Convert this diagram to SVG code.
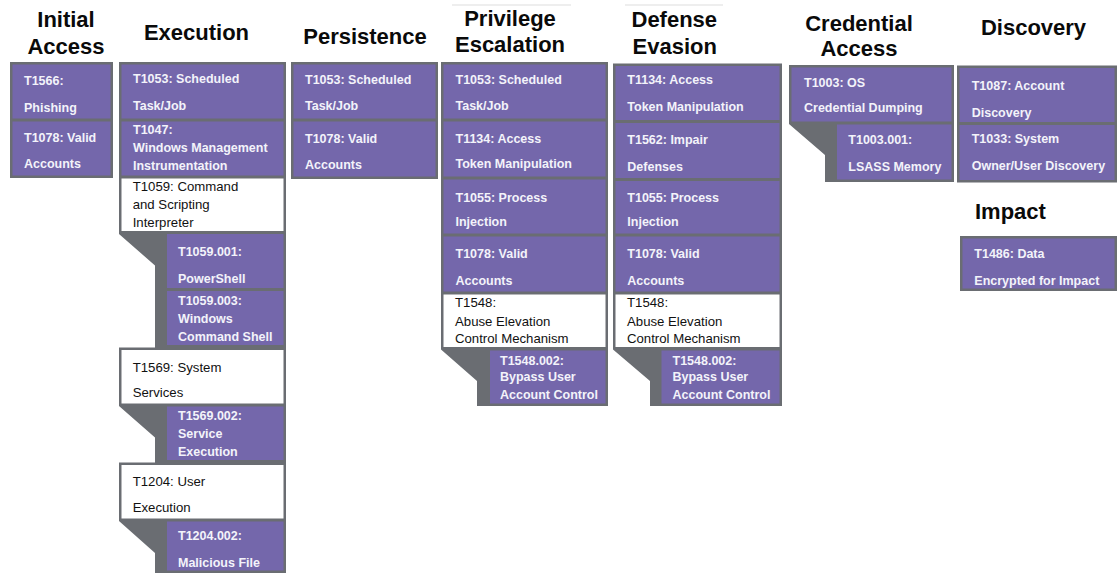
<svg xmlns="http://www.w3.org/2000/svg" width="1117" height="573" viewBox="0 0 1117 573">
  <style>
    .frame { fill: #6a6d72; }
    .tech { fill: #7467ab; }
    .open { fill: #ffffff; }
    .head { font-family: "Liberation Sans", Arial, sans-serif; font-weight: bold; font-size: 22px; fill: #0a0a0a; }
    .t { font-family: "Liberation Sans", Arial, sans-serif; font-weight: bold; font-size: 12.5px; fill: #f3f3fa; }
    .w { font-family: "Liberation Sans", Arial, sans-serif; font-size: 13.2px; fill: #111111; }
    .c { text-anchor: middle; }
    .rule { fill: #eeeeee; }
  </style>
  <rect width="1117" height="573" fill="#ffffff"/>

  <!-- faint rules above two headers -->
  <rect class="rule" x="452" y="4" width="119" height="2"/>
  <rect class="rule" x="625" y="4" width="98" height="2"/>

  <!-- Initial Access -->
  <g id="initial-access">
    <text class="head c" x="66" y="27">Initial</text>
    <text class="head c" x="66" y="53.5">Access</text>
    <rect class="frame" x="10" y="62" width="103" height="116"/>
    <g id="ia-t1566">
      <rect class="tech" x="12.5" y="64.5" width="98" height="54"/>
      <text class="t" x="24" y="85">T1566:</text>
      <text class="t" x="24" y="111.5">Phishing</text>
    </g>
    <g id="ia-t1078">
      <rect class="tech" x="12.5" y="121.5" width="98" height="54"/>
      <text class="t" x="24" y="141.5">T1078: Valid</text>
      <text class="t" x="24" y="168">Accounts</text>
    </g>
  </g>

  <!-- Execution -->
  <g id="execution">
    <text class="head c" x="196.5" y="40">Execution</text>
    <path class="frame" d="M119,62 H286 V573 H155 V553 L119,521 V462.5 H155 V437.5 L119,406 V347.5 H155 V265.5 L119,234 Z"/>
    <g id="ex-t1053">
      <rect class="tech" x="121.5" y="64.5" width="162" height="54"/>
      <text class="t" x="133" y="83">T1053: Scheduled</text>
      <text class="t" x="133" y="109.5">Task/Job</text>
    </g>
    <g id="ex-t1047">
      <rect class="tech" x="121.5" y="121.5" width="162" height="54"/>
      <text class="t" x="133" y="133.5">T1047:</text>
      <text class="t" x="133" y="152">Windows Management</text>
      <text class="t" x="133" y="170">Instrumentation</text>
    </g>
    <g id="ex-t1059">
      <rect class="open" x="121.5" y="178.5" width="162" height="52.5"/>
      <text class="w" x="132.7" y="190.5">T1059: Command</text>
      <text class="w" x="132.7" y="208.5">and Scripting</text>
      <text class="w" x="132.7" y="226.5">Interpreter</text>
    </g>
    <g id="ex-t1059-001">
      <rect class="tech" x="167" y="234" width="116.5" height="54"/>
      <text class="t" x="178" y="256">T1059.001:</text>
      <text class="t" x="178" y="283">PowerShell</text>
    </g>
    <g id="ex-t1059-003">
      <rect class="tech" x="167" y="291" width="116.5" height="54"/>
      <text class="t" x="178" y="305">T1059.003:</text>
      <text class="t" x="178" y="323">Windows</text>
      <text class="t" x="178" y="340.5">Command Shell</text>
    </g>
    <g id="ex-t1569">
      <rect class="open" x="121.5" y="350" width="162" height="53.5"/>
      <text class="w" x="132.7" y="371.7">T1569: System</text>
      <text class="w" x="132.7" y="396.7">Services</text>
    </g>
    <g id="ex-t1569-002">
      <rect class="tech" x="167" y="406.5" width="116.5" height="53.5"/>
      <text class="t" x="178" y="420">T1569.002:</text>
      <text class="t" x="178" y="438.3">Service</text>
      <text class="t" x="178" y="456">Execution</text>
    </g>
    <g id="ex-t1204">
      <rect class="open" x="121.5" y="465" width="162" height="53.5"/>
      <text class="w" x="132.7" y="486">T1204: User</text>
      <text class="w" x="132.7" y="511.7">Execution</text>
    </g>
    <g id="ex-t1204-002">
      <rect class="tech" x="167" y="521.5" width="116.5" height="49"/>
      <text class="t" x="178" y="540">T1204.002:</text>
      <text class="t" x="178" y="566.7">Malicious File</text>
    </g>
  </g>

  <!-- Persistence -->
  <g id="persistence">
    <text class="head c" x="365" y="43.5">Persistence</text>
    <rect class="frame" x="291" y="62" width="147" height="117"/>
    <g id="pe-t1053">
      <rect class="tech" x="293.5" y="64.5" width="142" height="54"/>
      <text class="t" x="305" y="84">T1053: Scheduled</text>
      <text class="t" x="305" y="110">Task/Job</text>
    </g>
    <g id="pe-t1078">
      <rect class="tech" x="293.5" y="121.5" width="142" height="55"/>
      <text class="t" x="305" y="142.7">T1078: Valid</text>
      <text class="t" x="305" y="169">Accounts</text>
    </g>
  </g>

  <!-- Privilege Escalation -->
  <g id="privilege-escalation">
    <text class="head c" x="510" y="26">Privilege</text>
    <text class="head c" x="510" y="52">Escalation</text>
    <path class="frame" d="M441,62 H608 V406 H477 V381 L441,349.5 Z"/>
    <g id="pr-t1053">
      <rect class="tech" x="443.5" y="64.5" width="162" height="54"/>
      <text class="t" x="455.5" y="84">T1053: Scheduled</text>
      <text class="t" x="455.5" y="110">Task/Job</text>
    </g>
    <g id="pr-t1134">
      <rect class="tech" x="443.5" y="121.5" width="162" height="55"/>
      <text class="t" x="455.5" y="142.7">T1134: Access</text>
      <text class="t" x="455.5" y="168">Token Manipulation</text>
    </g>
    <g id="pr-t1055">
      <rect class="tech" x="443.5" y="179.5" width="162" height="54"/>
      <text class="t" x="455.5" y="201.7">T1055: Process</text>
      <text class="t" x="455.5" y="226">Injection</text>
    </g>
    <g id="pr-t1078">
      <rect class="tech" x="443.5" y="236.5" width="162" height="55"/>
      <text class="t" x="455.5" y="258">T1078: Valid</text>
      <text class="t" x="455.5" y="285">Accounts</text>
    </g>
    <g id="pr-t1548">
      <rect class="open" x="443.5" y="294.5" width="162" height="52.5"/>
      <text class="w" x="455" y="307.3">T1548:</text>
      <text class="w" x="455" y="325.7">Abuse Elevation</text>
      <text class="w" x="455" y="343.3">Control Mechanism</text>
    </g>
    <g id="pr-t1548-002">
      <rect class="tech" x="490" y="350.5" width="115.5" height="53"/>
      <text class="t" x="500" y="365">T1548.002:</text>
      <text class="t" x="500" y="381">Bypass User</text>
      <text class="t" x="500" y="399">Account Control</text>
    </g>
  </g>

  <!-- Defense Evasion -->
  <g id="defense-evasion">
    <text class="head" x="631.5" y="27">Defense</text>
    <text class="head" x="632.5" y="53.5">Evasion</text>
    <path class="frame" d="M613,63.5 H782 V406 H650 V381 L613,349.5 Z"/>
    <g id="de-t1134">
      <rect class="tech" x="615.5" y="66" width="164" height="54"/>
      <text class="t" x="627.3" y="84.3">T1134: Access</text>
      <text class="t" x="627.3" y="110.5">Token Manipulation</text>
    </g>
    <g id="de-t1562">
      <rect class="tech" x="615.5" y="123" width="164" height="55"/>
      <text class="t" x="627.3" y="144.3">T1562: Impair</text>
      <text class="t" x="627.3" y="171">Defenses</text>
    </g>
    <g id="de-t1055">
      <rect class="tech" x="615.5" y="181" width="164" height="52.5"/>
      <text class="t" x="627.3" y="201.7">T1055: Process</text>
      <text class="t" x="627.3" y="226">Injection</text>
    </g>
    <g id="de-t1078">
      <rect class="tech" x="615.5" y="236.5" width="164" height="55"/>
      <text class="t" x="627.3" y="258">T1078: Valid</text>
      <text class="t" x="627.3" y="285">Accounts</text>
    </g>
    <g id="de-t1548">
      <rect class="open" x="615.5" y="294.5" width="164" height="52.5"/>
      <text class="w" x="627" y="307.3">T1548:</text>
      <text class="w" x="627" y="325.7">Abuse Elevation</text>
      <text class="w" x="627" y="343.3">Control Mechanism</text>
    </g>
    <g id="de-t1548-002">
      <rect class="tech" x="661.5" y="350.5" width="118" height="53"/>
      <text class="t" x="672.5" y="365">T1548.002:</text>
      <text class="t" x="672.5" y="381">Bypass User</text>
      <text class="t" x="672.5" y="399">Account Control</text>
    </g>
  </g>

  <!-- Credential Access -->
  <g id="credential-access">
    <text class="head c" x="859" y="31">Credential</text>
    <text class="head c" x="859" y="55.5">Access</text>
    <path class="frame" d="M789,65 H954 V182 H825 V155 L789,124 Z"/>
    <g id="ca-t1003">
      <rect class="tech" x="791.5" y="67.5" width="160" height="54"/>
      <text class="t" x="804" y="86.7">T1003: OS</text>
      <text class="t" x="804" y="111.5">Credential Dumping</text>
    </g>
    <g id="ca-t1003-001">
      <rect class="tech" x="837" y="124.5" width="114.5" height="55"/>
      <text class="t" x="848.3" y="144">T1003.001:</text>
      <text class="t" x="848.3" y="170.5">LSASS Memory</text>
    </g>
  </g>

  <!-- Discovery -->
  <g id="discovery">
    <text class="head c" x="1033.5" y="35">Discovery</text>
    <rect class="frame" x="957" y="65.5" width="160" height="117"/>
    <g id="di-t1087">
      <rect class="tech" x="959.5" y="68" width="155" height="54"/>
      <text class="t" x="971.7" y="90">T1087: Account</text>
      <text class="t" x="971.7" y="116.5">Discovery</text>
    </g>
    <g id="di-t1033">
      <rect class="tech" x="959.5" y="125" width="155" height="55"/>
      <text class="t" x="971.7" y="143.3">T1033: System</text>
      <text class="t" x="971.7" y="170">Owner/User Discovery</text>
    </g>
  </g>

  <!-- Impact -->
  <g id="impact">
    <text class="head" x="975" y="218.5">Impact</text>
    <rect class="frame" x="960" y="236" width="157" height="55"/>
    <g id="im-t1486">
      <rect class="tech" x="962.5" y="238.5" width="152" height="50"/>
      <text class="t" x="974.3" y="258.3">T1486: Data</text>
      <text class="t" x="974.3" y="285">Encrypted for Impact</text>
    </g>
  </g>

  <g id="connectors"/>
</svg>
